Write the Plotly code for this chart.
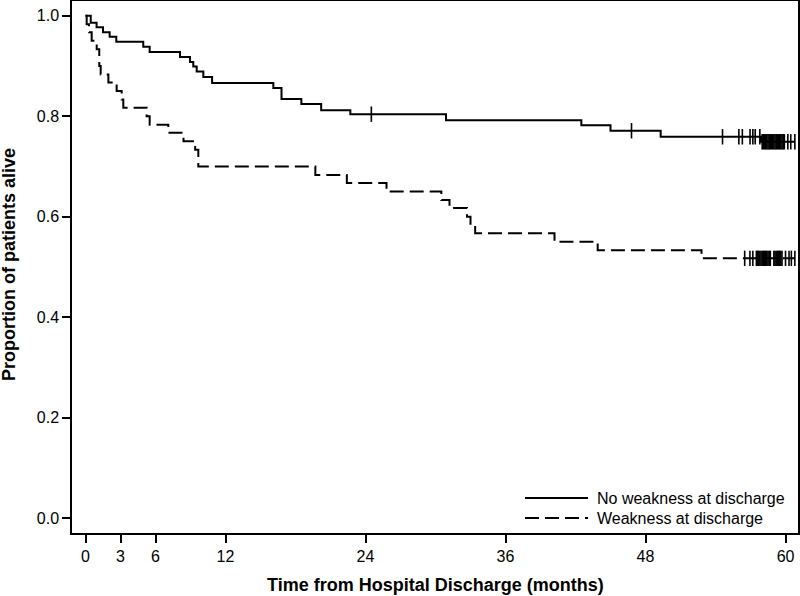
import numpy as np
import plotly.graph_objects as go

# ---- data ----
# "No weakness at discharge" (solid): event times (months) and survival after each step
times_nw = [0, 0.45, 0.95, 1.5, 2.07, 2.64, 4.95, 5.5, 8.1, 8.96, 9.24, 9.53, 10.1, 10.85,
            16.1, 16.8, 18.5, 20.2, 22.7, 30.9, 42.5, 45.0, 49.3, 57.9]
surv_nw = [1.0, 0.986, 0.977, 0.967, 0.958, 0.948, 0.938, 0.928, 0.918, 0.908, 0.899, 0.889,
           0.878, 0.866, 0.856, 0.834, 0.824, 0.812, 0.804, 0.792, 0.782, 0.771, 0.759, 0.749]
cens_nw = [24.5, 46.8, 54.6, 56.0, 56.3, 56.96, 57.2, 57.4, 57.8,
           58.0, 58.1, 58.2, 58.3, 58.4, 58.5, 58.6, 58.7, 58.8, 58.9,
           59.0, 59.1, 59.2, 59.3, 59.4, 59.5, 59.6, 59.7, 59.8, 59.9,
           60.2, 60.45, 60.8]

# "Weakness at discharge" (dashed)
times_w = [0, 0.1, 0.3, 0.53, 0.96, 1.18, 1.3, 1.96, 2.67, 3.1, 3.24, 5.24, 5.5, 7.1, 8.4,
           9.4, 9.67, 19.7, 22.4, 25.8, 30.5, 31.2, 32.7, 33.0, 33.4, 40.2, 43.9, 52.8]
surv_w = [1.0, 0.983, 0.967, 0.95, 0.933, 0.9, 0.883, 0.867, 0.85, 0.833, 0.817, 0.8, 0.783,
          0.767, 0.75, 0.733, 0.70, 0.683, 0.667, 0.65, 0.633, 0.617, 0.60, 0.583, 0.567,
          0.55, 0.533, 0.517]
cens_w = [56.5, 56.95, 57.2, 57.5, 57.6, 57.7, 57.8, 57.9, 58.0, 58.1, 58.2, 58.3, 58.4,
          58.5, 58.6, 58.7, 59.0, 59.1, 59.2, 59.3, 59.4, 59.5, 59.6, 59.7,
          60.0, 60.3, 60.5, 60.8]

x_ticks = [0, 3, 6, 12, 24, 36, 48, 60]
y_ticks = [0.0, 0.2, 0.4, 0.6, 0.8, 1.0]
labels = ["No weakness at discharge", "Weakness at discharge"]

FONT = "Liberation Sans, Arial, sans-serif"


def step_xy(times, surv, cens):
    end = max(max(cens), times[-1])
    return list(times) + [end], list(surv) + [surv[-1]]


def surv_at(times, surv, t):
    idx = np.searchsorted(np.array(times), np.array(t), side="right") - 1
    return [surv[i] for i in idx]


fig = go.Figure()
for times, surv, cens, dash in [(times_nw, surv_nw, cens_nw, "solid"),
                                (times_w, surv_w, cens_w, "14px,6px")]:
    sx, sy = step_xy(times, surv, cens)
    fig.add_trace(go.Scatter(x=sx, y=sy, mode="lines", line_shape="hv",
                             line=dict(color="black", width=2, dash=dash),
                             showlegend=False, hoverinfo="skip", cliponaxis=False))
    fig.add_trace(go.Scatter(x=cens, y=surv_at(times, surv, cens), mode="markers",
                             marker=dict(symbol="line-ns", size=11,
                                         line=dict(color="black", width=1.6)),
                             showlegend=False, hoverinfo="skip"))

# plot area in pixels: x 72..798, y 1..533
L, R, T, B = 72, 2, 1, 63
W, H = 800, 596
pw, ph = W - L - R, H - T - B


def px(xp):
    return (xp - L) / pw


def py(yp):
    return (H - B - yp) / ph


# custom legend (bottom-right, inside)
for i, (lab, dash) in enumerate(zip(labels, ["solid", "14px,6px"])):
    yl = py(498 + 20 * i)
    fig.add_shape(type="line", xref="paper", yref="paper", x0=px(525), x1=px(588),
                  y0=yl, y1=yl, line=dict(color="black", width=2, dash=dash))
    fig.add_annotation(xref="paper", yref="paper", x=px(595), y=yl, text=lab,
                       showarrow=False, xanchor="left", yanchor="middle",
                       font=dict(family=FONT, size=16, color="black"))

# axis titles
fig.add_annotation(xref="paper", yref="paper", x=px(435), y=py(585),
                   text="<b>Time from Hospital Discharge (months)</b>", showarrow=False,
                   xanchor="center", yanchor="middle",
                   font=dict(family=FONT, size=18, color="black"))
fig.add_annotation(xref="paper", yref="paper", x=px(9), y=py(265),
                   text="<b>Proportion of patients alive</b>", showarrow=False,
                   textangle=-90, xanchor="center", yanchor="middle",
                   font=dict(family=FONT, size=18, color="black"))

fig.update_xaxes(range=[-1.157, 61.07], tickvals=x_ticks, ticks="outside", ticklen=8,
                 tickwidth=1.5, tickcolor="black", showline=True, linecolor="black",
                 linewidth=1.5, mirror=True, showgrid=False, zeroline=False,
                 automargin=False,
                 tickfont=dict(family=FONT, size=16, color="black"))
fig.update_yaxes(range=[-0.0298, 1.0293], tickvals=y_ticks, tickformat=".1f",
                 ticks="outside", ticklen=8, tickwidth=1.5, tickcolor="black",
                 showline=True, linecolor="black", linewidth=1.5, mirror=True,
                 showgrid=False, zeroline=False, automargin=False,
                 tickfont=dict(family=FONT, size=16, color="black"))

fig.update_layout(width=W, height=H,
                  margin=dict(l=L, r=R, t=T, b=B, pad=0, autoexpand=False),
                  plot_bgcolor="white", paper_bgcolor="white",
                  font=dict(family=FONT, color="black"))

fig.write_html("out.html", config={"displayModeBar": False},
               post_script="document.body.style.margin='0';document.body.style.padding='0';")
